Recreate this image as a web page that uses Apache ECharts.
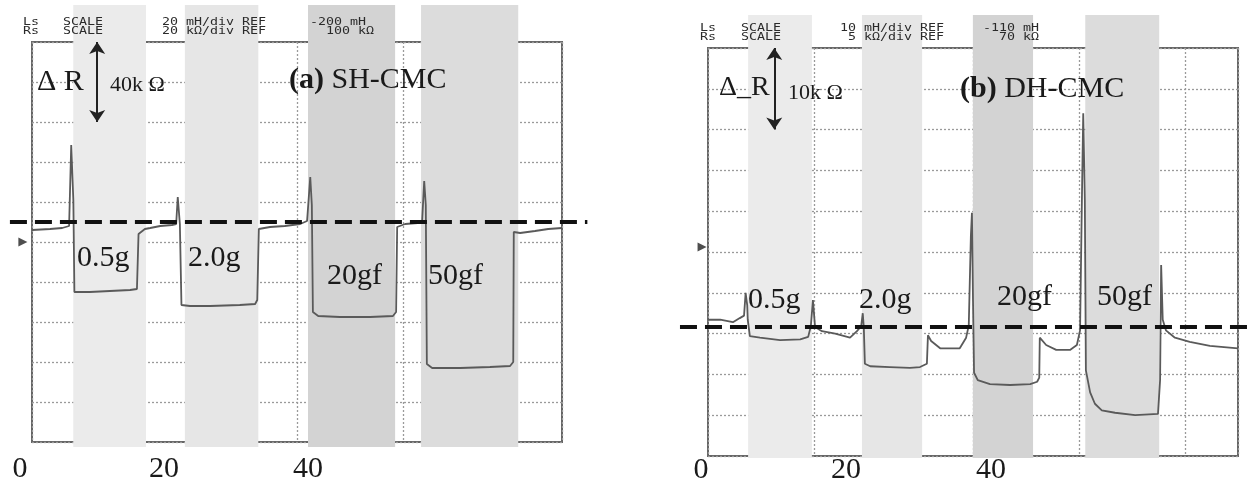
<!DOCTYPE html>
<html>
<head>
<meta charset="utf-8">
<script src="https://cdn.jsdelivr.net/npm/echarts@6/dist/echarts.min.js"></script>
<style>
html, body { margin: 0; background: #fff; }
#chart { width: 1256px; height: 481px; }
</style>
</head>
<body>
<div id="chart"></div>
<script>
// (a) SH-CMC trace: [x in screen divisions, resistance in kOhm] (20 kOhm/div)
var traceA = [
	[0, 106], [0.34, 106.5], [0.57, 107], [0.70, 108], [0.74, 148.5], [0.78, 121], [0.80, 75],
	[1.09, 75], [1.47, 75.5], [1.85, 76], [1.98, 76.5], [2.01, 104], [2.13, 106.5], [2.23, 107],
	[2.42, 108], [2.64, 108.5], [2.72, 109], [2.75, 122.5], [2.79, 109], [2.82, 68.5], [2.98, 68],
	[3.36, 68], [3.92, 68.5], [4.21, 69], [4.25, 71], [4.28, 106.5], [4.49, 107.5], [4.77, 108],
	[5.06, 109], [5.19, 110.5], [5.25, 132.5], [5.28, 118.5], [5.30, 65], [5.40, 63], [5.81, 62.5],
	[6.38, 62.5], [6.81, 63], [6.87, 65], [6.89, 107.5], [7.04, 109], [7.28, 109.5], [7.36, 110],
	[7.40, 130.5], [7.43, 118.5], [7.45, 39], [7.55, 37], [8.08, 37], [8.64, 37.5], [9.02, 38],
	[9.08, 40], [9.09, 105], [9.21, 104.5], [9.49, 105.5], [9.74, 106.5], [10, 107]
];
// (b) DH-CMC trace: [x in screen divisions, resistance in kOhm] (5 kOhm/div)
var traceB = [
	[0, 16.7], [0.23, 16.7], [0.47, 16.4], [0.60, 16.9], [0.68, 17.2], [0.71, 20], [0.74, 18.5],
	[0.75, 16.7], [0.79, 14.7], [0.98, 14.5], [1.36, 14.2], [1.74, 14.3], [1.89, 14.6], [1.94, 15.9],
	[1.98, 19.1], [2.02, 15.8], [2.15, 15.3], [2.40, 15], [2.68, 14.5], [2.81, 15.3], [2.89, 15.9],
	[2.92, 17.5], [2.94, 15.7], [2.96, 11.3], [3.06, 11], [3.43, 10.9], [3.81, 10.8], [4.00, 10.9],
	[4.13, 11.3], [4.15, 14.8], [4.21, 14.1], [4.38, 13.2], [4.75, 13.2], [4.87, 14.5], [4.92, 16],
	[4.96, 27], [4.98, 29.8], [5.00, 19.1], [5.02, 10.2], [5.09, 9.3], [5.32, 8.8], [5.70, 8.7],
	[6.08, 8.8], [6.21, 9.1], [6.25, 9.6], [6.26, 14.5], [6.38, 13.6], [6.57, 13], [6.83, 13],
	[6.96, 13.6], [7.02, 15.4], [7.06, 33.8], [7.08, 42], [7.11, 31.4], [7.13, 10.5], [7.21, 7.8],
	[7.30, 6.4], [7.43, 5.6], [7.68, 5.3], [8.06, 5], [8.49, 5.15], [8.53, 9.3], [8.55, 23.4],
	[8.58, 16.7], [8.64, 15.4], [8.81, 14.5], [9.09, 14], [9.47, 13.5], [10, 13.2]
];
// loading periods (seconds)
var bandsA = [[7.4, 17.5], [22.9, 33.1], [40.0, 52.1], [55.7, 69.2]];
var bandsB = [[6.5, 15.3], [22.2, 30.5], [37.5, 45.8], [53.0, 63.2]];
var timeTicks = [0, 20, 40];
var loadNames = ["0.5g", "2.0g", "20gf", "50gf"];
// dashed reference level (kOhm) and its time span
var refA = [[-1.4, 110], [78.8, 110]];
var refB = [[-2.9, 15.8], [75.9, 15.8]];
// REF marker on the left edge [s, kOhm]
var markerA = [[0.4, 100]];
var markerB = [[0.15, 25.6]];
// delta R scale arrows [div, kOhm]
var arrowA = [[1.23, 200], [1.23, 160]];
var arrowB = [[1.25, 50], [1.25, 40]];

var bandColors = ["#ebebeb", "#e6e6e6", "#d3d3d3", "#dcdcdc"];
var serif = "Liberation Serif";
var mono = "DejaVu Sans Mono";

var panels = [
	{
		frame: {left: 32, top: 42, width: 530, height: 400}, yMax: 200,
		zeroPx: 20, pxPerSec: 7.2, tMin: -2, tMax: 80, bandTop: 5, bandBottom: 447, labelMargin: 7,
		trace: traceA, bands: bandsA, ref: refA, marker: markerA, arrow: arrowA
	},
	{
		frame: {left: 708, top: 48, width: 530, height: 408}, yMax: 50,
		zeroPx: 701, pxPerSec: 7.25, tMin: -4, tMax: 76, bandTop: 15, bandBottom: 458, labelMargin: -3,
		trace: traceB, bands: bandsB, ref: refB, marker: markerB, arrow: arrowB
	}
];

var grids = [], xAxes = [], yAxes = [], series = [];

panels.forEach(function (p) {
	var frameBottom = p.frame.top + p.frame.height;
	var kPerPx = p.yMax / p.frame.height;
	var gl = grids.length;

	// wide grid: time labels, load bands, dashed reference
	grids.push({
		left: p.zeroPx + p.tMin * p.pxPerSec,
		width: (p.tMax - p.tMin) * p.pxPerSec,
		top: p.bandTop,
		height: p.bandBottom - p.bandTop,
		outerBoundsMode: "none",
		z: 0
	});
	xAxes.push({
		gridIndex: gl, type: "value", min: p.tMin, max: p.tMax,
		axisLine: {show: false}, axisTick: {show: false}, splitLine: {show: false},
		axisLabel: {
			customValues: timeTicks, margin: p.labelMargin,
			color: "#1a1a1a", fontFamily: serif, fontSize: 30
		}
	});
	yAxes.push({
		gridIndex: gl, type: "value", show: false,
		min: (frameBottom - p.bandBottom) * kPerPx,
		max: (frameBottom - p.bandTop) * kPerPx
	});

	// oscilloscope screen
	grids.push({
		left: p.frame.left, top: p.frame.top, width: p.frame.width, height: p.frame.height,
		outerBoundsMode: "none",
		show: true, borderColor: "#666", borderWidth: 2, backgroundColor: "transparent", z: 1
	});
	var dotted = {show: true, lineStyle: {color: "#9a9a9a", width: 1.3, type: [2, 2]}};
	xAxes.push({
		gridIndex: gl + 1, type: "value", min: 0, max: 10, interval: 1, z: 1,
		axisLine: {show: false}, axisTick: {show: false}, axisLabel: {show: false},
		splitLine: dotted
	});
	yAxes.push({
		gridIndex: gl + 1, type: "value", min: 0, max: p.yMax, interval: p.yMax / 10, z: 1,
		axisLine: {show: false}, axisTick: {show: false}, axisLabel: {show: false},
		splitLine: dotted
	});

	series.push({
		type: "line", xAxisIndex: gl, yAxisIndex: gl, data: [], z: 0, silent: true,
		markArea: {
			silent: true,
			data: p.bands.map(function (b, i) {
				return [{xAxis: b[0], itemStyle: {color: bandColors[i]}}, {xAxis: b[1]}];
			})
		}
	});
	series.push({
		type: "line", xAxisIndex: gl + 1, yAxisIndex: gl + 1, data: p.trace, z: 3,
		symbol: "none", silent: true,
		lineStyle: {color: "#5a5a5a", width: 1.8},
		markLine: {
			silent: true, symbol: ["arrow", "arrow"], symbolSize: 12,
			label: {show: false},
			lineStyle: {color: "#222", width: 2, type: "solid"},
			data: [[{coord: p.arrow[0]}, {coord: p.arrow[1]}]]
		}
	});
	series.push({
		type: "line", xAxisIndex: gl, yAxisIndex: gl, data: p.ref, z: 4,
		symbol: "none", silent: true,
		lineStyle: {color: "#111", width: 4, type: [17, 8]}
	});
	series.push({
		type: "scatter", xAxisIndex: gl, yAxisIndex: gl, data: p.marker, z: 4,
		symbol: "triangle", symbolRotate: -90, symbolSize: 9, silent: true,
		itemStyle: {color: "#222"}
	});
});

function txt(x, y, text, size, extra) {
	var el = {
		type: "text", x: x, y: y, z: 10, silent: true,
		style: {text: text, font: size + "px '" + serif + "'", fill: "#1a1a1a", verticalAlign: "middle"}
	};
	if (extra) {
		for (var k in extra) el.style[k] = extra[k];
	}
	return el;
}

function hdr(x, y, text) {
	return {
		type: "text", x: x, y: y, z: 10, silent: true, scaleX: 1.33,
		style: {text: text, font: "10px '" + mono + "'", fill: "#2a2a2a", verticalAlign: "middle"}
	};
}

var rich = {b: {fontWeight: "bold", fontSize: 30, fontFamily: serif, fill: "#1a1a1a"}};

var graphics = [
	// (a) header
	hdr(23, 22.5, "Ls"), hdr(63, 22.5, "SCALE"), hdr(162, 22.5, "20 mH/div REF"), hdr(310, 22.5, "-200 mH"),
	hdr(23, 31.5, "Rs"), hdr(63, 31.5, "SCALE"), hdr(162, 31.5, "20 k\u03a9/div REF"), hdr(318, 31.5, " 100 k\u03a9"),
	// (b) header
	hdr(700, 28, "Ls"), hdr(741, 28, "SCALE"), hdr(840, 28, "10 mH/div REF"), hdr(983, 28, "-110 mH"),
	hdr(700, 37.5, "Rs"), hdr(741, 37.5, "SCALE"), hdr(840, 37.5, " 5 k\u03a9/div REF"), hdr(991, 37.5, " 70 k\u03a9"),

	txt(37, 82, "\u0394 R", 30),
	txt(110, 85, "40k \u03a9", 22),
	txt(289, 80, "{b|(a)} SH-CMC", 30, {rich: rich}),
	txt(77, 258, loadNames[0], 30), txt(188, 258, loadNames[1], 30),
	txt(327, 276, loadNames[2], 30), txt(428, 276, loadNames[3], 30),

	txt(719, 88, "\u0394_R", 28),
	txt(788, 93, "10k \u03a9", 22),
	txt(960, 89, "{b|(b)} DH-CMC", 30, {rich: rich}),
	txt(748, 300, loadNames[0], 30), txt(859, 300, loadNames[1], 30),
	txt(997, 297, loadNames[2], 30), txt(1097, 297, loadNames[3], 30)
];

var chart = echarts.init(document.getElementById("chart"), null, {renderer: "canvas"});
chart.setOption({
	animation: false,
	backgroundColor: "#fff",
	grid: grids,
	xAxis: xAxes,
	yAxis: yAxes,
	series: series,
	graphic: graphics
});
</script>
</body>
</html>
